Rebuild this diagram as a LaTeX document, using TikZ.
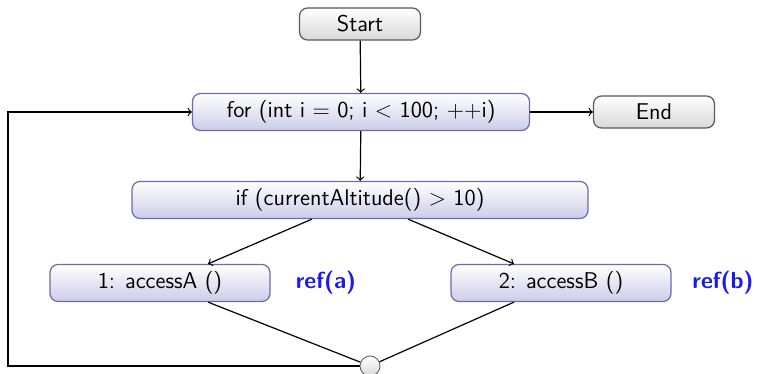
\documentclass[tikz,border=0pt]{standalone}
\usetikzlibrary{shapes.geometric}
\definecolor{boxline}{rgb}{0.42,0.42,0.68}
\definecolor{boxfill}{rgb}{0.80,0.80,0.91}
\definecolor{termline}{rgb}{0.35,0.35,0.35}
\definecolor{reflink}{rgb}{0.1,0.1,0.95}

\begin{document}
\begin{tikzpicture}[x=0.5pt, y=-0.5pt, font=\sffamily\fontsize{11.4}{13}\selectfont,
    term/.style={draw=termline, line width=0.6pt, rounded corners=4pt, top color=white, bottom color=gray!30,
        minimum width=60.5pt, minimum height=16pt, inner sep=0pt},
    act/.style={draw=boxline, line width=0.6pt, rounded corners=4pt, top color=white, bottom color=boxfill,
        minimum height=18.5pt, inner sep=0pt},
    refl/.style={text=reflink, font=\sffamily\bfseries\fontsize{11.6}{13}\selectfont},
    flow/.style={->, semithick}]
	\useasboundingbox (0,0) rectangle (760,374);
    \node[term] (start) at (360,24) {Start};
    \node[act, minimum width=168.5pt] (for) at (361,112) {for (int i = 0; i < 100; ++i)};
    \node[term] (end) at (654,112) {End};
    \node[act, minimum width=228pt] (if) at (360,200) {if (currentAltitude() > 10)};
    \node[act, minimum width=110pt] (a) at (160,283) {1: accessA ()};
    \node[act, minimum width=110pt] (b) at (561,283) {2: accessB ()};
    \node[refl] (refa) at (326,283) {ref(a)};
    \node[refl] (refb) at (723,283) {ref(b)};
    \node[circle, draw=termline, top color=white, bottom color=gray!30, minimum size=10pt, inner sep=0pt] (join) at (370,366) {};
    \coordinate (loop) at (8,112);
    \draw[flow] (start) -- (for);
    \draw[flow] (for) -- (end);
    \draw[flow] (for) -- (if);
    \draw[flow] ([xshift=-24pt]if.south) -- ([xshift=24pt]a.north);
    \draw[flow] ([xshift=24pt]if.south) -- ([xshift=-23.5pt]b.north);
    \draw[semithick] ([xshift=24pt]a.south) -- (join);
    \draw[semithick] ([xshift=-23.5pt]b.south) -- (join);
    \draw[flow] (join.west) -| (loop) -- (for.west);
\end{tikzpicture}
\end{document}
